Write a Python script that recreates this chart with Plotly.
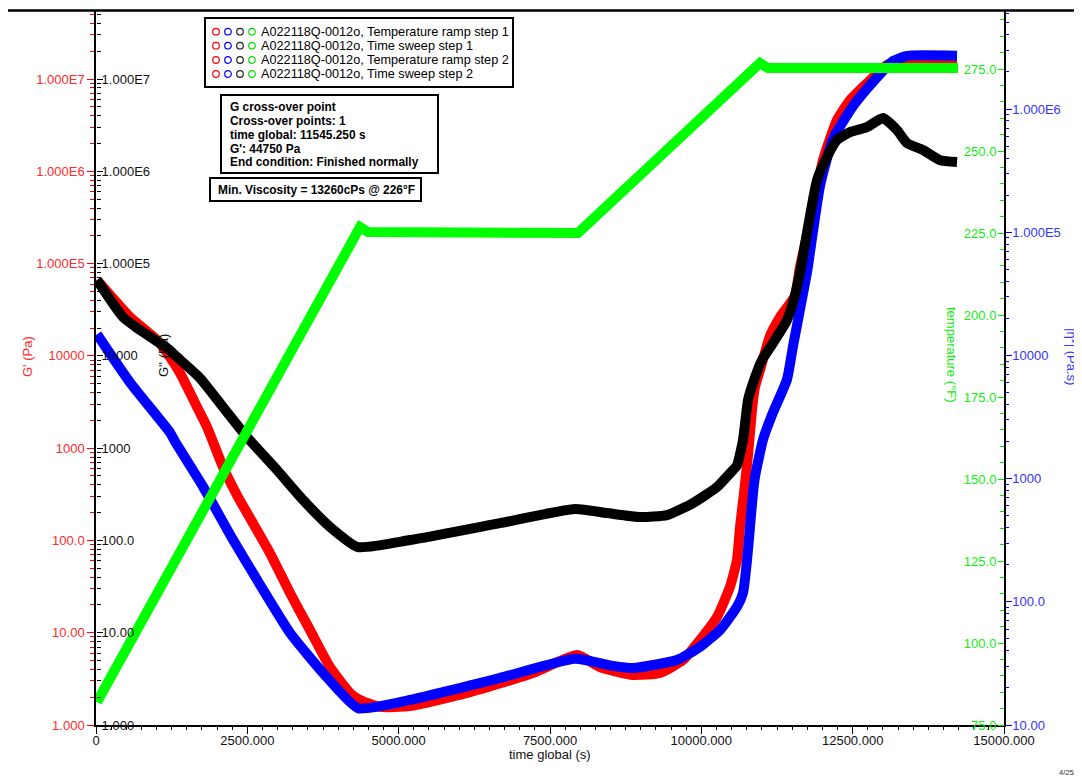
import plotly.graph_objects as go

# ------------------------------------------------------------------ data
# G' (Pa) -- red, left log axis
gp_time = [17, 562, 1008, 1222, 1388, 1669, 1834, 2098, 2346, 2544, 2874, 3205, 3535, 3865,
           4196, 4361, 4692, 5187, 6129, 7219, 7946, 8326, 8871, 9317, 9697, 9978, 10259,
           10473, 10589, 10639, 10705, 10771, 10837, 10887, 10969, 11134, 11300, 11545,
           11630, 11828, 12010, 12241, 12456, 12737, 13067, 13398, 14224]
gp_val = [66300, 26300, 14830, 9710, 6510, 2790, 1694, 624, 295, 175, 73, 26.9, 10.7, 4.25,
          2.22, 1.87, 1.57, 1.60, 2.22, 3.66, 5.73, 4.25, 3.48, 3.66, 5.06, 8.34, 14.8,
          31.3, 61.4, 140, 326, 840, 2580, 4600, 7000, 16500, 26300, 44750,
          91600, 352000, 1.32e6, 3.59e6, 5.9e6, 9.0e6, 1.42e7, 1.6e7, 1.65e7]

# G'' (Pa) -- black, left log axis
gpp_time = [17, 446, 727, 1173, 1338, 1718, 2098, 2494, 2990, 3420, 3866, 4328, 5187, 6674,
            7913, 8442, 8987, 9433, 9863, 10259, 10523, 10589, 10688, 10771, 10854, 11002,
            11184, 11415, 11545, 11630, 11911, 12076, 12241, 12456, 12737, 13001, 13233,
            13398, 13662, 13943, 14224]
gpp_val = [66300, 26300, 19040, 12150, 9710, 5750, 2790, 1319, 579, 275, 140, 84.8, 101, 154,
           219, 198, 179, 188, 254, 379, 579, 650, 1224, 3320, 5070, 9010,
           13770, 24400, 44750, 80000, 803000, 1.43e6, 2.18e6, 2.66e6, 3.01e6, 3.77e6, 2.79e6,
           2.02e6, 1.70e6, 1.32e6, 1.26e6]

# |eta*| (Pa.s) -- blue, right log axis
eta_time = [17, 562, 1222, 1305, 1768, 2263, 2660, 3205, 3750, 4328, 5187, 6674, 7913, 8541,
            8871, 9598, 9978, 10308, 10589, 10688, 10755, 10804, 10854, 10887, 11019, 11184,
            11415, 11514, 11630, 11746, 11960, 12175, 12506, 12836, 13166, 13398, 14224]
eta_val = [14830, 6030, 2370, 2000, 861, 319, 151, 56, 26.5, 13.7, 16.0, 24.1, 34.5, 30.2,
           29, 33.7, 43, 59, 91, 118, 219, 407, 769, 1038, 2075, 3445,
           6380, 11830, 23660, 47300, 236600, 570000, 1.057e6, 1.66e6, 2.45e6, 2.70e6, 2.70e6]

# temperature (°F) -- green, right linear axis
temp_time = [17, 1272, 2429, 3370, 4361, 4493, 7963, 10969, 11100, 14240]
temp_val = [82.0, 123.5, 161.9, 193.3, 226.8, 225.3, 225.0, 276.8, 275.3, 275.3]

# ticks / labels
x_tick_vals = [0, 2500, 5000, 7500, 10000, 12500, 15000]
x_tick_text = ["0", "2500.000", "5000.000", "7500.000", "10000.000", "12500.000", "15000.000"]
g_tick_vals = [1, 10, 100, 1000, 1e4, 1e5, 1e6, 1e7]
g_tick_text = ["1.000", "10.00", "100.0", "1000", "10000", "1.000E5", "1.000E6", "1.000E7"]
eta_tick_vals = [10, 100, 1000, 1e4, 1e5, 1e6]
eta_tick_text = ["10.00", "100.0", "1000", "10000", "1.000E5", "1.000E6"]
temp_tick_vals = [75, 100, 125, 150, 175, 200, 225, 250, 275]
temp_tick_text = ["75.0", "100.0", "125.0", "150.0", "175.0", "200.0", "225.0", "250.0", "275.0"]

legend_rows = ["A022118Q-0012o, Temperature ramp step 1",
               "A022118Q-0012o, Time sweep step 1",
               "A022118Q-0012o, Temperature ramp step 2",
               "A022118Q-0012o, Time sweep step 2"]
legend_colors = ["#ff0000", "#0000ff", "#222222", "#00dd00"]
crossover_lines = ["G cross-over point", "Cross-over points: 1", "time global: 11545.250 s",
                   "G': 44750 Pa", "End condition: Finished normally"]
min_visc_text = "Min. Viscosity = 13260cPs @ 226°F"

# ------------------------------------------------------------------ layout helpers
# The page body has an 8px margin, so the figure is drawn 8px smaller and
# positions below are given in window pixels.
OFF = 8
W, H = 1082 - OFF, 778 - OFF
L, R, T, B = 96, 1004, 11, 725
FONT = "Liberation Sans, Arial, Helvetica, sans-serif"


def fx(p):
    return (p - L) / (R - L)


def fy(p):
    return (B - p) / (B - T)


RED, BLUE, GREEN, BLACK = "#ff0000", "#0000ff", "#00ee00", "#000000"
RED_T, BLUE_T, GREEN_T = "#ff2a2a", "#3333ff", "#11ee11"
LW = 10

fig = go.Figure()
fig.add_trace(go.Scatter(x=gp_time, y=gp_val, mode="lines",
                         line=dict(color=RED, width=LW, shape="spline", smoothing=0.5),
                         xaxis="x", yaxis="y", showlegend=False))
fig.add_trace(go.Scatter(x=eta_time, y=eta_val, mode="lines",
                         line=dict(color=BLUE, width=LW, shape="spline", smoothing=0.5),
                         xaxis="x", yaxis="y2", showlegend=False))
fig.add_trace(go.Scatter(x=gpp_time, y=gpp_val, mode="lines",
                         line=dict(color=BLACK, width=LW, shape="spline", smoothing=0.5),
                         xaxis="x", yaxis="y3", showlegend=False))
fig.add_trace(go.Scatter(x=temp_time, y=temp_val, mode="lines",
                         line=dict(color="#00ff00", width=LW),
                         xaxis="x", yaxis="y4", showlegend=False))

g_minor = [k * 10 ** d for d in range(0, 8) for k in range(2, 10)]
eta_minor = [k * 10 ** d for d in range(1, 7) for k in range(2, 10)]
g_range = [0, (B - T) / ((B - 79) / 7)]
eta_range = [1, 1 + (B - T) / ((B - 109) / 5)]
temp_range = [75, 75 + (B - T) / ((B - 69) / 200)]

tick_font = dict(family=FONT, size=13)

fig.update_layout(
    width=W, height=H,
    margin=dict(l=L - OFF, r=1082 - R, t=T - OFF, b=778 - B, pad=0),
    paper_bgcolor="white", plot_bgcolor="white",
    showlegend=False,
    font=dict(family=FONT, size=13, color="black"),
    xaxis=dict(domain=[0, 1], range=[0, 15000], showgrid=False, zeroline=False,
               showline=True, linecolor="black", linewidth=1.5,
               ticks="outside", ticklen=7, tickwidth=1, tickcolor="black",
               ticklabelstandoff=-4,
               tickmode="array", tickvals=x_tick_vals, ticktext=x_tick_text,
               tickfont=dict(tick_font, color="#111111"),
               minor=dict(ticks="outside", ticklen=3, tickcolor="black", tickmode="linear",
                          tick0=0, dtick=250, showgrid=False)),
    yaxis=dict(type="log", range=g_range, side="left", anchor="x", showgrid=False, zeroline=False,
               showline=True, linecolor="black", linewidth=1.5,
               ticks="outside", ticklen=7, tickcolor=RED,
               tickmode="array", tickvals=g_tick_vals, ticktext=g_tick_text,
               tickfont=dict(tick_font, color=RED_T),
               minor=dict(ticks="outside", ticklen=4, tickcolor=RED, tickmode="array",
                          tickvals=g_minor, showgrid=False)),
    yaxis2=dict(type="log", range=eta_range, side="right", anchor="x", overlaying="y",
                showgrid=False, zeroline=False,
                showline=True, linecolor="black", linewidth=1.5,
                ticks="outside", ticklen=6, tickcolor=BLUE, ticklabelstandoff=-2,
                tickmode="array", tickvals=eta_tick_vals, ticktext=eta_tick_text,
                tickfont=dict(tick_font, color=BLUE_T),
                minor=dict(ticks="outside", ticklen=3, tickcolor=BLUE, tickmode="array",
                           tickvals=eta_minor, showgrid=False)),
    # G'' axis: sits on the left edge but its ticks/labels face into the plot
    yaxis3=dict(type="log", range=g_range, side="right", anchor="free", position=0,
                overlaying="y", showgrid=False, zeroline=False, showline=False,
                ticks="outside", ticklen=6, tickcolor="black", ticklabelstandoff=-4,
                tickmode="array", tickvals=g_tick_vals, ticktext=g_tick_text,
                tickfont=dict(tick_font, color="#111111"),
                minor=dict(ticks="outside", ticklen=4, tickcolor="black", tickmode="array",
                           tickvals=g_minor, showgrid=False)),
    # temperature axis: sits on the right edge, ticks/labels face into the plot
    yaxis4=dict(range=temp_range, side="left", anchor="free", position=1, overlaying="y",
                showgrid=False, zeroline=False, showline=False,
                ticks="outside", ticklen=6, tickcolor=GREEN, ticklabelstandoff=-1,
                tickmode="array", tickvals=temp_tick_vals, ticktext=temp_tick_text,
                tickfont=dict(tick_font, color=GREEN_T),
                minor=dict(ticks="outside", ticklen=4, tickcolor=GREEN, tickmode="linear",
                           tick0=75, dtick=5, showgrid=False)),
)

shapes = []
annotations = []

# top frame line
shapes.append(dict(type="line", xref="paper", yref="paper", x0=fx(8), x1=fx(1082), y0=fy(10.5),
                   y1=fy(10.5), line=dict(color="black", width=2.5)))

# legend box
shapes.append(dict(type="rect", xref="paper", yref="paper", x0=fx(205), x1=fx(513), y0=fy(87),
                   y1=fy(18), line=dict(color="black", width=2), fillcolor="white", layer="above"))
row_y = [31.7, 45.7, 60.0, 74.0]
circ_x = [216, 228, 240, 252]
for ry, txt in zip(row_y, legend_rows):
    for cx, col in zip(circ_x, legend_colors):
        shapes.append(dict(type="circle", xref="paper", yref="paper",
                           x0=fx(cx - 3.3), x1=fx(cx + 3.3), y0=fy(ry + 3.3), y1=fy(ry - 3.3),
                           line=dict(color=col, width=1.2), layer="above"))
    annotations.append(dict(xref="paper", yref="paper", x=fx(258.5), y=fy(ry), xanchor="left",
                            yanchor="middle", showarrow=False, text=txt,
                            font=dict(family=FONT, size=12.7, color="black")))

# cross-over box
shapes.append(dict(type="rect", xref="paper", yref="paper", x0=fx(221), x1=fx(438), y0=fy(173),
                   y1=fy(95), line=dict(color="black", width=2), fillcolor="white", layer="above"))
for i, txt in enumerate(crossover_lines):
    annotations.append(dict(xref="paper", yref="paper", x=fx(227.5), y=fy(107.3 + i * 13.75),
                            xanchor="left", yanchor="middle", showarrow=False,
                            text="<b>" + txt + "</b>",
                            font=dict(family=FONT, size=11.9, color="black")))

# min viscosity box
shapes.append(dict(type="rect", xref="paper", yref="paper", x0=fx(210), x1=fx(421), y0=fy(201),
                   y1=fy(178), line=dict(color="black", width=2), fillcolor="white", layer="above"))
annotations.append(dict(xref="paper", yref="paper", x=fx(316), y=fy(190), xanchor="center",
                        yanchor="middle", showarrow=False, text="<b>" + min_visc_text + "</b>",
                        font=dict(family=FONT, size=11.9, color="black")))

# axis titles
annotations.append(dict(xref="paper", yref="paper", x=fx(550), y=fy(754.5), xanchor="center",
                        yanchor="middle", showarrow=False, text="time global (s)",
                        font=dict(family=FONT, size=13, color="#111111")))
annotations.append(dict(xref="paper", yref="paper", x=fx(27), y=fy(357), xanchor="center",
                        yanchor="middle", showarrow=False, text="G' (Pa)", textangle=-90,
                        font=dict(family=FONT, size=13, color=RED_T)))
annotations.append(dict(xref="paper", yref="paper", x=fx(164), y=fy(356), xanchor="center",
                        yanchor="middle", showarrow=False, text="G'' (Pa)", textangle=-90,
                        font=dict(family=FONT, size=13, color="#111111")))
annotations.append(dict(xref="paper", yref="paper", x=fx(951), y=fy(355), xanchor="center",
                        yanchor="middle", showarrow=False, text="temperature (°F)", textangle=90,
                        font=dict(family=FONT, size=13, color=GREEN_T)))
annotations.append(dict(xref="paper", yref="paper", x=fx(1071), y=fy(356), xanchor="center",
                        yanchor="middle", showarrow=False, text="|η*| (Pa.s)", textangle=90,
                        font=dict(family=FONT, size=13, color=BLUE_T)))
annotations.append(dict(xref="paper", yref="paper", x=fx(1057), y=fy(772), xanchor="left",
                        yanchor="middle", showarrow=False, text="4/25/2018",
                        font=dict(family=FONT, size=7.5, color="#333333")))

fig.update_layout(shapes=shapes, annotations=annotations)
fig.write_html("out.html")
